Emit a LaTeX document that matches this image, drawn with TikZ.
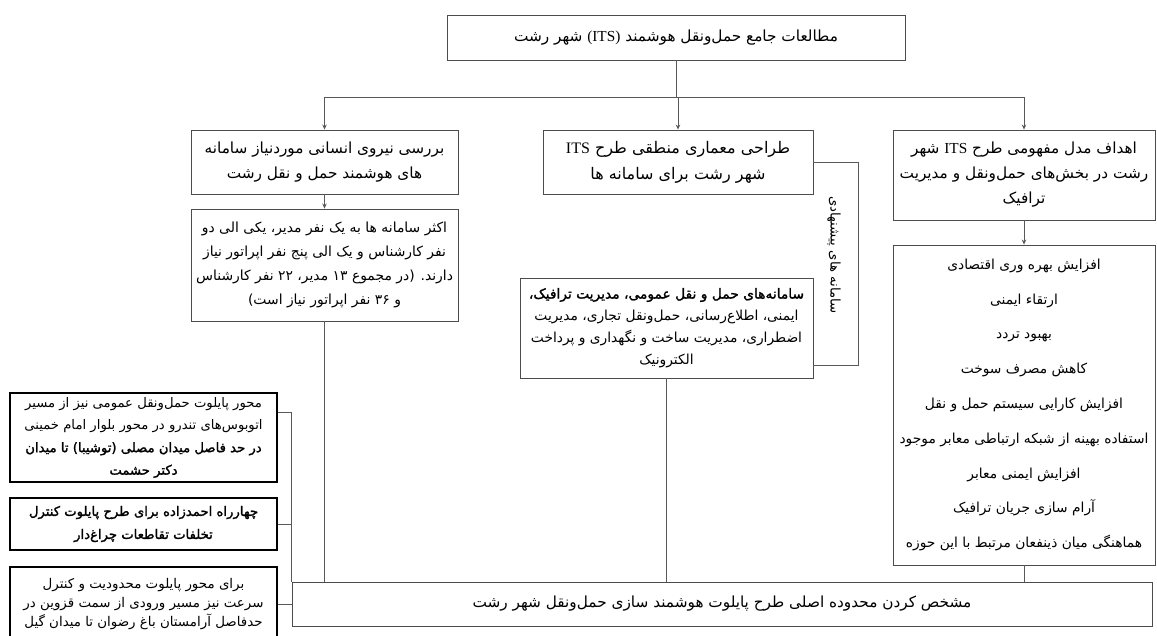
\documentclass[tikz,border=0pt]{standalone}
\usepackage{fontspec}
\setmainfont{Liberation Serif}
\newfontfamily\fa[Script=Arabic]{DejaVu Sans}
\newfontfamily\fab[Script=Arabic,FakeBold=1.6]{DejaVu Sans}
\newfontfamily\lat{Liberation Serif}
\TeXXeTstate=1
\usetikzlibrary{arrows.meta,calc}
% one right-to-left line of Persian text
\newcommand\rl[1]{{\fa\beginR #1\endR}}
% the same, emphasised
\newcommand\rlb[1]{{\fab\beginR #1\endR}}
% a Latin word inside a Persian line
\newcommand\ltr[1]{\beginL{\lat #1}\endL{}}

\begin{document}
\begin{tikzpicture}[x=1pt,y=-1pt,
  box/.style 2 args={draw=black!70, line width=0.9pt, inner sep=0pt,
    align=center, minimum width=#1, minimum height=#2},
  fs/.style 2 args={font=\fontsize{#1}{#2}\selectfont},
  darkbox/.style={draw=black, line width=1.2pt},
  link/.style={draw=black!65, line width=0.8pt},
  arr/.style={link, -{Stealth[length=5pt,width=4.5pt]}}]
\useasboundingbox (0,0) rectangle (1157,635);

% main study
\node[box={458}{45}, fs={15.3}{22}] (top) at (676,37.5)
  {\rl{مطالعات جامع حمل‌ونقل هوشمند \ltr{(ITS)} شهر رشت}};

% three study branches
\node[box={262}{90}, fs={15.3}{25}] (goal) at (1024,175)
  {\rl{اهداف مدل مفهومی طرح \ltr{ITS} شهر}\\
   \rl{رشت در بخش‌های حمل‌ونقل و مدیریت}\\
   \rl{ترافیک}};
\node[box={270}{64}, fs={16}{26}] (arch) at (678,162)
  {\rl{طراحی معماری منطقی طرح \ltr{ITS}}\\
   \rl{شهر رشت برای سامانه ها}};
\node[box={267}{64}, fs={15.3}{25}] (hr) at (324.5,162)
  {\rl{بررسی نیروی انسانی موردنیاز سامانه}\\
   \rl{های هوشمند حمل و نقل رشت}};

% results of each branch
\node[box={267}{112}, fs={13.9}{24}] (staff) at (324.5,265)
  {\rl{اکثر سامانه ها به یک نفر مدیر، یکی الی دو}\\
   \rl{نفر کارشناس و یک الی پنج نفر اپراتور نیاز}\\
   \rl{دارند. (در مجموع ۱۳ مدیر، ۲۲ نفر کارشناس}\\
   \rl{و ۳۶ نفر اپراتور نیاز است)}};
\node[box={293}{100}, fs={13.8}{22}] (sys) at (666.5,328)
  {\rlb{سامانه‌های حمل و نقل عمومی، مدیریت ترافیک،}\\
   \rl{ایمنی، اطلاع‌رسانی، حمل‌ونقل تجاری، مدیریت}\\
   \rl{اضطراری، مدیریت ساخت و نگهداری و پرداخت}\\
   \rl{الکترونیک}};
\node[box={262}{320}, fs={13.8}{34.8}] (list) at (1024,405)
  {\rl{افزایش بهره وری اقتصادی}\\
   \rl{ارتقاء ایمنی}\\
   \rl{بهبود تردد}\\
   \rl{کاهش مصرف سوخت}\\
   \rl{افزایش کارایی سیستم حمل و نقل}\\
   \rl{استفاده بهینه از شبکه ارتباطی معابر موجود}\\
   \rl{افزایش ایمنی معابر}\\
   \rl{آرام سازی جریان ترافیک}\\
   \rl{هماهنگی میان ذینفعان مرتبط با این حوزه}};

% pilot area
\node[box={860}{44}, fs={15.3}{22}] (area) at (722,604)
  {\rl{مشخص کردن محدوده اصلی طرح پایلوت هوشمند سازی حمل‌ونقل شهر رشت}};

% pilot corridors
\node[box={267}{89}, darkbox, fs={13.2}{22.5}] (p1) at (143.5,437.5)
  {\rl{محور پایلوت حمل‌ونقل عمومی نیز از مسیر}\\
   \rl{اتوبوس‌های تندرو در محور بلوار امام خمینی}\\
   \rlb{در حد فاصل میدان مصلی (توشیبا) تا میدان}\\
   \rlb{دکتر حشمت}};
\node[box={267}{52}, darkbox, fs={13.2}{23}] (p2) at (143.5,524)
  {\rlb{چهارراه احمدزاده برای طرح پایلوت کنترل}\\
   \rlb{تخلفات تقاطعات چراغ‌دار}};
\node[box={267}{74}, darkbox, fs={13.4}{19}] (p3) at (143.5,604)
  {\rl{برای محور پایلوت محدودیت و کنترل}\\
   \rl{سرعت نیز مسیر ورودی از سمت قزوین در}\\
   \rl{حدفاصل آرامستان باغ رضوان تا میدان گیل}};

% distribution bus under the main study
\coordinate (bus) at (678,97);
\draw[link] (top.south) -- (top.south |- bus);
\draw[link] (hr.north |- bus) -- (goal.north |- bus);
\draw[arr] (hr.north |- bus) -- (hr.north);
\draw[arr] (arch.north |- bus) -- (arch.north);
\draw[arr] (goal.north |- bus) -- (goal.north);

\draw[arr] (hr.south) -- (staff.north);
\draw[arr] (goal.south) -- (list.north);

% proposed systems bracket
\coordinate (kx) at (858,0);
\coordinate (systap) at ($(sys.south east)+(0,-13)$);
\draw[link] (arch.east) -- (arch.east -| kx) -- (kx |- systap) -- (systap);
\node[rotate=-90, fs={13.3}{15}] (prop) at (834,255)
  {\rl{سامانه های پیشنهادی}};

% feeds into the pilot area
\draw[link] (staff.south) -- (staff.south |- area.north);
\draw[link] (sys.south) -- (sys.south |- area.north);
\draw[link] (list.south) -- (list.south |- area.north);

% left bracket of pilot corridors
\coordinate (p1tap) at ($(p1.north east)+(0,20)$);
\draw[link] (p1tap) -- (p1tap -| area.west) -- (area.north west);
\draw[link] (p2.east) -- (p2.east -| area.west);
\draw[link] (p3.east) -- (area.west);
\end{tikzpicture}
\end{document}
